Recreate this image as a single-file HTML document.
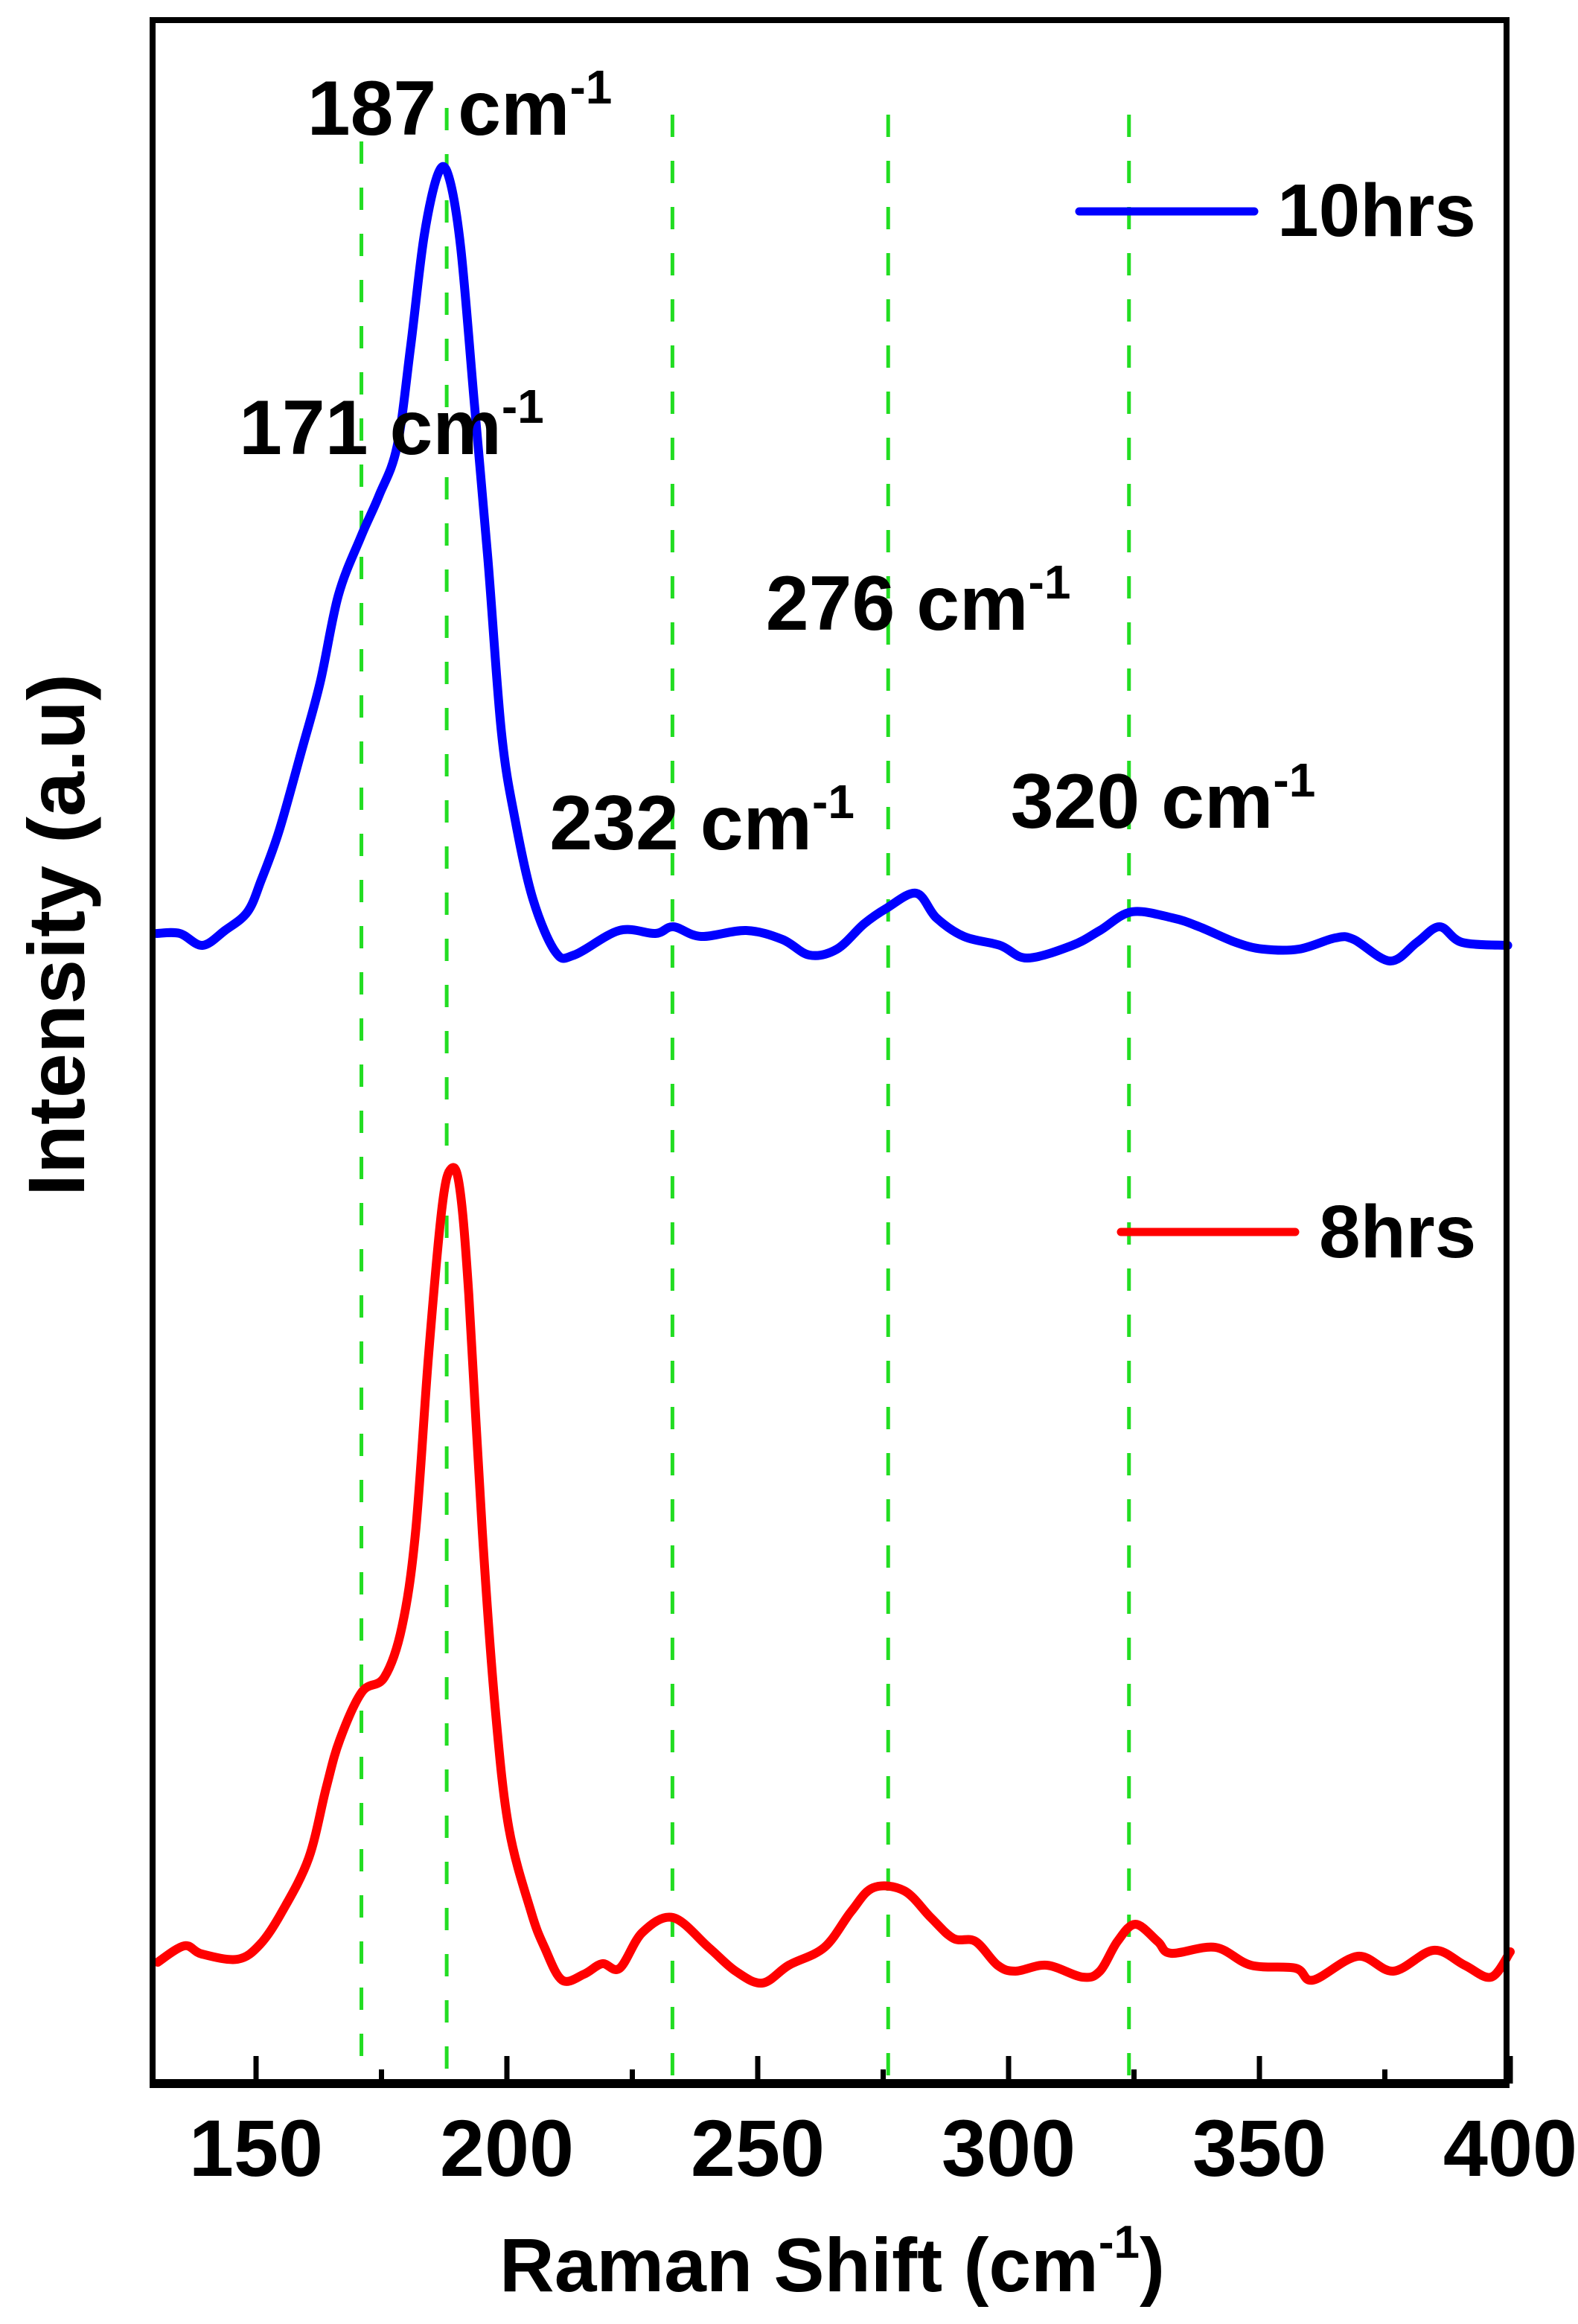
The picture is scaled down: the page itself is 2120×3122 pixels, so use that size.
<!DOCTYPE html>
<html><head><meta charset="utf-8"><style>
html,body{margin:0;padding:0;background:#fff;}
svg{display:block;font-family:"Liberation Sans",Arial,sans-serif;font-weight:bold;}
</style></head>
<body>
<svg id="chart" width="2120" height="3122" viewBox="0 0 2120 3122" xmlns="http://www.w3.org/2000/svg">
<rect width="2120" height="3122" fill="#fff"/>
<g id="grid"></g>
<g id="series"></g>
<rect x="205" y="27" width="1819" height="2772" fill="none" stroke="#000" stroke-width="8"/>
<line x1="201" y1="2799" x2="2028" y2="2799" stroke="#000" stroke-width="12"/>
<g id="ticks"></g>
<g id="labels"></g>
<g>
  <line x1="1450" y1="284" x2="1685" y2="284" stroke="#0000ff" stroke-width="11" stroke-linecap="round"/>
  <text x="1716" y="317" font-size="100">10hrs</text>
  <line x1="1506" y1="1655" x2="1740" y2="1655" stroke="#ff0000" stroke-width="11" stroke-linecap="round"/>
  <text x="1772" y="1689" font-size="100">8hrs</text>
</g>
<text x="1118" y="3078" text-anchor="middle" font-size="102">Raman Shift (cm<tspan dy="-45" font-size="62">-1</tspan><tspan dy="45">)</tspan></text>
<text transform="translate(113,1256) rotate(-90)" text-anchor="middle" font-size="108">Intensity (a.u)</text>
</svg>
<script>
const xTicks = [150, 200, 250, 300, 350, 400];
const xMinorTicks = [175, 225, 275, 325, 375];
const peakLines = [171, 188, 233, 276, 324];
const peakLabels = ["187", "171", "276", "232", "320"];
const peakLabelX = [160.2, 146.6, 251.6, 208.5, 300.4];
const peakLabelY = [261.9, 219.0, 195.4, 165.9, 168.8];
const redX = [130.4,135.7,139.2,146.3,150.8,155.2,160.5,164.0,166.7,171.1,175.6,179.1,181.8,184.4,187.1,188.9,190.6,192.4,195.1,197.7,200.4,204.8,207.5,211.0,215.4,219.0,222.5,227.0,233.1,240.2,245.6,250.9,256.2,263.3,268.6,273.0,279.2,284.5,289.0,293.4,297.8,301.4,307.6,314.7,318.2,321.7,325.3,329.7,332.4,341.2,348.3,357.2,360.7,369.6,376.7,384.7,390.9,396.2,400];
const redY = [16.4,18.6,17.5,16.8,18.8,23.2,30.4,39.9,46.3,52.7,54.7,61.5,74.2,98.1,118.0,123.0,120.4,106.1,74.2,50.3,34.4,23.2,18.4,14.0,14.8,16.2,15.6,20.4,22.4,18.4,15.2,13.6,16.0,18.4,23.2,26.4,26.0,22.4,19.6,19.2,16.0,15.2,16.0,14.4,15.2,19.2,21.5,19.2,17.6,18.4,16.0,15.6,14.0,17.2,15.2,18.0,16.0,14.4,17.8];
const blueX = [130.2,134.8,139.3,143.8,148.3,151.0,154.6,159.1,162.8,166.4,170.9,174.5,178.1,180.8,183.5,186.3,188.4,190.8,193.5,196.2,198.9,201.6,205.2,209.7,213.4,222.4,229.6,233.2,238.7,247.7,254.9,260.3,265.8,271.2,275.7,281.6,285.6,291.1,298.3,303.7,312.7,318.2,324.5,332.6,338.0,345.3,350.7,357.9,365.1,368.8,376.0,381.4,385.9,390.4,399.5];
const blueY = [154.6,154.6,153.0,155.0,157.5,161.7,168.4,179.2,188.4,200.0,207.9,213.4,220.0,233.4,248.3,256.7,256.3,246.7,225.9,205.0,181.7,170.0,159.2,152.1,151.7,155.0,154.6,155.5,154.2,155.0,153.8,151.7,152.5,155.9,158.0,160.0,156.7,154.2,153.0,151.3,153.0,155.0,157.5,156.7,155.5,153.4,152.5,152.5,154.0,153.8,150.9,153.4,155.5,153.4,153.0];

const NS = "http://www.w3.org/2000/svg";
function sx(v){ return 344 + (v - 150) * 6.74; }
function sy(v){ return 2800 - v * 10; }
function mk(tag, attrs, parent){
  const e = document.createElementNS(NS, tag);
  for (const k in attrs) e.setAttribute(k, attrs[k]);
  parent.appendChild(e);
  return e;
}
const grid = document.getElementById('grid');
peakLines.forEach(function(p, i){
  const l = mk('line', {x1: sx(p), x2: sx(p), y1: (i === 0 ? 190 : (i === 1 ? 145 : 154)), y2: 2790, stroke: '#22dd22', 'stroke-width': 5, 'stroke-dasharray': '30 32'}, grid);
  
  
});
const series = document.getElementById('series');
function path(xs, ys, color, name){
  const pts = xs.map(function(x, i){ return [sx(x), sy(ys[i])]; });
  let d = 'M' + pts[0][0].toFixed(1) + ',' + pts[0][1].toFixed(1);
  for (let i = 0; i < pts.length - 1; i++) {
    const p0 = pts[Math.max(0, i - 1)], p1 = pts[i], p2 = pts[i + 1], p3 = pts[Math.min(pts.length - 1, i + 2)];
    const c1x = p1[0] + (p2[0] - p0[0]) / 6, c1y = p1[1] + (p2[1] - p0[1]) / 6;
    const c2x = p2[0] - (p3[0] - p1[0]) / 6, c2y = p2[1] - (p3[1] - p1[1]) / 6;
    d += 'C' + c1x.toFixed(1) + ',' + c1y.toFixed(1) + ' ' + c2x.toFixed(1) + ',' + c2y.toFixed(1) + ' ' + p2[0].toFixed(1) + ',' + p2[1].toFixed(1);
  }
  const p = mk('path', {d: d, fill: 'none', stroke: color, 'stroke-width': 12, 'stroke-linejoin': 'round', 'stroke-linecap': 'round'}, series);
  
  
}
path(blueX, blueY, '#0000ff', 'series-10hrs');
path(redX, redY, '#ff0000', 'series-8hrs');
const ticks = document.getElementById('ticks');
xTicks.forEach(function(t){
  const l = mk('line', {x1: sx(t), x2: sx(t), y1: 2799, y2: 2762, stroke: '#000', 'stroke-width': 7}, ticks);
  
  
  const tx = mk('text', {x: sx(t), y: 2923, 'text-anchor': 'middle', 'font-size': 108}, ticks);
  tx.textContent = t;
  
  
});
xMinorTicks.forEach(function(t){
  const l = mk('line', {x1: sx(t), x2: sx(t), y1: 2799, y2: 2780, stroke: '#000', 'stroke-width': 7}, ticks);
  
  
});
const labels = document.getElementById('labels');
peakLabels.forEach(function(s, i){
  const t = mk('text', {x: sx(peakLabelX[i]), y: sy(peakLabelY[i]), 'font-size': 104}, labels);
  t.textContent = s + ' cm';
  const sp = mk('tspan', {dy: -42, 'font-size': 64}, t);
  sp.textContent = '-1';
  
  
});
</script>
</body></html>
